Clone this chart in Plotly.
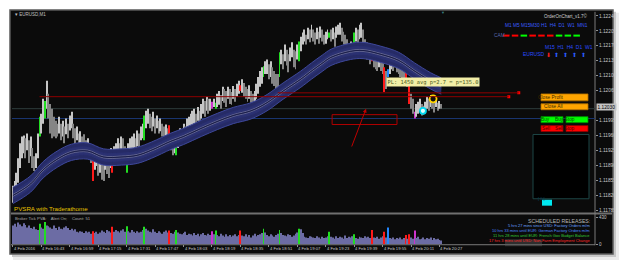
import plotly.graph_objects as go

W, H = 625, 268


def px(x):
    return x / W


def py(y):
    return 1 - y / H


# ---------------- data ----------------
bar_high = [
    1.11843, 1.11854, 1.11873, 1.11907, 1.11942, 1.11958, 1.11960, 1.11954, 1.11965, 1.11949,
    1.11958, 1.11931, 1.11912, 1.11919, 1.11965, 1.12004, 1.12011, 1.12046, 1.12041, 1.12088,
    1.12058, 1.12034, 1.12023, 1.12004, 1.11995, 1.11988, 1.12004, 1.11988, 1.11995, 1.11981,
    1.12000, 1.11988, 1.12007, 1.12016, 1.11988, 1.11977, 1.11981, 1.11965, 1.11970, 1.11958,
    1.11963, 1.11949, 1.11954, 1.11942, 1.11931, 1.11903, 1.11919, 1.11931, 1.11912, 1.11919,
    1.11907, 1.11896, 1.11919, 1.11912, 1.11903, 1.11931, 1.11907, 1.11935, 1.11942, 1.11954,
    1.11942, 1.11958, 1.11954, 1.11935, 1.11919, 1.11942, 1.11954, 1.11958, 1.11965, 1.11954,
    1.11972, 1.11965, 1.11981, 1.11988, 1.12007, 1.12018, 1.12023, 1.12011, 1.12004, 1.12016,
    1.12000, 1.12007, 1.11995, 1.12000, 1.11988, 1.11981, 1.11986, 1.11977, 1.11984, 1.11958,
    1.11949, 1.11954, 1.11970, 1.11965, 1.11977, 1.11972, 1.11988, 1.11981, 1.12000, 1.12004,
    1.12011, 1.12018, 1.12023, 1.12011, 1.12027, 1.12018, 1.12034, 1.12046, 1.12041, 1.12051,
    1.12046, 1.12046, 1.12039, 1.12046, 1.12037, 1.12058, 1.12064, 1.12055, 1.12074, 1.12069,
    1.12064, 1.12074, 1.12069, 1.12062, 1.12076, 1.12069, 1.12081, 1.12088, 1.12078, 1.12092,
    1.12083, 1.12074, 1.12069, 1.12078, 1.12064, 1.12058, 1.12064, 1.12081, 1.12097, 1.12111,
    1.12120, 1.12122, 1.12134, 1.12138, 1.12127, 1.12134, 1.12120, 1.12111, 1.12104, 1.12104,
    1.12155, 1.12161, 1.12150, 1.12173, 1.12161, 1.12150, 1.12166, 1.12178, 1.12161, 1.12157,
    1.12173, 1.12180, 1.12191, 1.12201, 1.12208, 1.12196, 1.12212, 1.12208, 1.12219, 1.12208,
    1.12201, 1.12212, 1.12203, 1.12215, 1.12208, 1.12196, 1.12203, 1.12208, 1.12201, 1.12208,
    1.12212, 1.12201, 1.12215, 1.12219, 1.12224, 1.12212, 1.12203, 1.12196, 1.12185, 1.12173,
    1.12180, 1.12173, 1.12201, 1.12212, 1.12208, 1.12219, 1.12224, 1.12208, 1.12185, 1.12178,
    1.12173, 1.12166, 1.12143, 1.12150, 1.12145, 1.12138, 1.12150, 1.12138, 1.12134, 1.12120,
    1.12111, 1.12115, 1.12138, 1.12150, 1.12143, 1.12155, 1.12138, 1.12134, 1.12127, 1.12115,
    1.12111, 1.12108, 1.12092, 1.12081, 1.12058, 1.12046, 1.12016, 1.12034, 1.12039, 1.12046,
    1.12034, 1.12030, 1.12039, 1.12051, 1.12046, 1.12055, 1.12051, 1.12041, 1.12046, 1.12037,
    1.12041, 1.12034,
]
bar_low = [
    1.11803, 1.11815, 1.11827, 1.11850, 1.11884, 1.11907, 1.11919, 1.11907, 1.11926, 1.11896,
    1.11912, 1.11884, 1.11877, 1.11884, 1.11907, 1.11958, 1.11965, 1.11988, 1.12000, 1.12023,
    1.12000, 1.11965, 1.11954, 1.11958, 1.11954, 1.11958, 1.11965, 1.11949, 1.11958, 1.11942,
    1.11963, 1.11954, 1.11972, 1.11977, 1.11954, 1.11942, 1.11949, 1.11935, 1.11940, 1.11931,
    1.11926, 1.11912, 1.11919, 1.11907, 1.11896, 1.11854, 1.11880, 1.11889, 1.11866, 1.11873,
    1.11857, 1.11854, 1.11880, 1.11870, 1.11861, 1.11884, 1.11873, 1.11889, 1.11903, 1.11907,
    1.11912, 1.11919, 1.11917, 1.11896, 1.11873, 1.11903, 1.11919, 1.11926, 1.11931, 1.11919,
    1.11935, 1.11931, 1.11949, 1.11954, 1.11949, 1.11977, 1.11988, 1.11977, 1.11970, 1.11981,
    1.11965, 1.11977, 1.11965, 1.11970, 1.11958, 1.11949, 1.11954, 1.11947, 1.11947, 1.11926,
    1.11914, 1.11919, 1.11914, 1.11931, 1.11937, 1.11942, 1.11949, 1.11954, 1.11958, 1.11965,
    1.11977, 1.11981, 1.11988, 1.11977, 1.11995, 1.11986, 1.12000, 1.12011, 1.12004, 1.12018,
    1.12011, 1.12018, 1.12023, 1.12027, 1.12023, 1.12027, 1.12032, 1.12023, 1.12041, 1.12037,
    1.12027, 1.12046, 1.12034, 1.12032, 1.12046, 1.12039, 1.12051, 1.12058, 1.12064, 1.12060,
    1.12051, 1.12046, 1.12039, 1.12046, 1.12037, 1.12034, 1.12032, 1.12046, 1.12058, 1.12074,
    1.12081, 1.12097, 1.12104, 1.12104, 1.12092, 1.12097, 1.12081, 1.12076, 1.12069, 1.12064,
    1.12097, 1.12127, 1.12115, 1.12134, 1.12124, 1.12108, 1.12134, 1.12143, 1.12120, 1.12115,
    1.12138, 1.12134, 1.12157, 1.12173, 1.12180, 1.12173, 1.12185, 1.12178, 1.12189, 1.12180,
    1.12173, 1.12185, 1.12175, 1.12189, 1.12180, 1.12173, 1.12175, 1.12185, 1.12189, 1.12180,
    1.12185, 1.12168, 1.12189, 1.12196, 1.12196, 1.12180, 1.12173, 1.12166, 1.12150, 1.12143,
    1.12148, 1.12143, 1.12157, 1.12180, 1.12173, 1.12185, 1.12189, 1.12168, 1.12150, 1.12138,
    1.12143, 1.12127, 1.12134, 1.12120, 1.12115, 1.12111, 1.12120, 1.12111, 1.12104, 1.12062,
    1.12069, 1.12097, 1.12104, 1.12115, 1.12111, 1.12120, 1.12108, 1.12104, 1.12097, 1.12092,
    1.12092, 1.12088, 1.12074, 1.12034, 1.12023, 1.12011, 1.12000, 1.12004, 1.12011, 1.12018,
    1.12007, 1.12009, 1.12016, 1.12023, 1.12018, 1.12027, 1.12023, 1.12014, 1.12027, 1.12018,
    1.12023, 1.12023,
]
volume = [
    300, 330, 280, 350, 320, 290, 340, 310, 270, 300,
    260, 250, 280, 240, 230, 330, 270, 250, 360, 300,
    290, 270, 250, 300, 260, 230, 280, 250, 240, 270,
    290, 260, 230, 250, 220, 240, 200, 190, 210, 200,
    180, 210, 190, 200, 170, 210, 180, 200, 170, 190,
    220, 200, 180, 230, 210, 190, 280, 200, 230, 210,
    190, 220, 240, 200, 290, 210, 190, 230, 200, 180,
    210, 190, 200, 230, 280, 250, 220, 200, 190, 240,
    200, 180, 210, 190, 170, 200, 220, 190, 220, 180,
    170, 200, 230, 190, 170, 160, 180, 200, 150, 170,
    160, 140, 180, 150, 170, 130, 160, 180, 150, 140,
    170, 150, 210, 160, 220, 150, 130, 170, 140, 120,
    160, 130, 150, 120, 140, 160, 130, 150, 220, 140,
    130, 160, 120, 150, 110, 140, 170, 130, 150, 160,
    180, 250, 190, 150, 130, 160, 140, 120, 150, 170,
    230, 180, 150, 140, 130, 160, 150, 120, 140, 170,
    190, 250, 240, 180, 120, 110, 100, 130, 120, 110,
    100, 130, 110, 90, 120, 100, 110, 130, 200, 120,
    110, 90, 130, 100, 120, 110, 90, 140, 100, 120,
    110, 130, 160, 100, 90, 120, 110, 100, 130, 110,
    120, 100, 230, 110, 100, 120, 90, 110, 130, 200,
    110, 270, 100, 90, 110, 80, 100, 90, 110, 80,
    100, 150, 90, 160, 110, 90, 220, 100, 120, 80,
    90, 110, 80, 100, 90, 110, 70, 100, 80, 90,
    70, 60,
]
# PVSRA bar classes (g = climax bull, r = climax bear, m = rising vol, b = blue)
bar_class = {15: 'g', 18: 'g', 45: 'r', 56: 'r', 64: 'g', 74: 'g', 88: 'r', 92: 'g',
             112: 'm', 114: 'g', 128: 'r', 141: 'g', 150: 'g', 161: 'g', 178: 'g',
             192: 'g', 202: 'r', 209: 'r', 211: 'b', 221: 'r', 223: 'r', 226: 'm'}

band_idx = [0, 10, 17, 25, 33, 42, 51, 61, 70, 78, 89, 96, 106, 115, 124, 134, 143,
            152, 162, 168, 174, 179, 190, 197, 207, 217, 226, 235, 241]
band_mid = [1.11820, 1.11847, 1.11880, 1.11905, 1.11921, 1.11924, 1.11910, 1.11910,
            1.11914, 1.11926, 1.11947, 1.11958, 1.11977, 1.11993, 1.12007, 1.12018,
            1.12037, 1.12064, 1.12092, 1.12111, 1.12129, 1.12143, 1.12157, 1.12159,
            1.12150, 1.12136, 1.12111, 1.12088, 1.12076]
band_half = 0.00019

price_ticks = [1.11785, 1.11820, 1.11855, 1.11890, 1.11925, 1.11960, 1.11995,
               1.12030, 1.12065, 1.12100, 1.12135, 1.12170, 1.12205, 1.12240]
time_labels = ["4 Feb 2016", "4 Feb 16:43", "4 Feb 16:59", "4 Feb 17:15", "4 Feb 17:31",
               "4 Feb 17:47", "4 Feb 18:03", "4 Feb 18:19", "4 Feb 18:35", "4 Feb 18:51",
               "4 Feb 19:07", "4 Feb 19:23", "4 Feb 19:39", "4 Feb 19:55", "4 Feb 20:11",
               "4 Feb 20:27"]
time_pos = [0, 16, 32, 48, 64, 80, 96, 112, 128, 144, 160, 176, 192, 208, 224, 240]

level_red1 = 1.12051
level_red2 = 1.12060
level_bid = 1.12023
level_blue = 1.12000
current_price = 1.12030

# ---------------- figure ----------------
n = len(bar_high)
idx = list(range(n))
cmap = {'g': '#22dd22', 'r': '#ff1a1a', 'm': '#cc33cc', 'b': '#2288ff'}
candle_col = []
for i in idx:
    if i in bar_class:
        candle_col.append(cmap[bar_class[i]])
    else:
        mid = bar_high[i] + bar_low[i]
        prev = bar_high[i - 1] + bar_low[i - 1] if i > 0 else mid
        candle_col.append('#c6c6c6' if mid >= prev else '#858585')
vol_col = [cmap.get(bar_class.get(i, ''), '#6c6ca4') for i in idx]

fig = go.Figure()

upper = [m + band_half for m in band_mid]
lower = [m - band_half for m in band_mid]
inner_u = [m + band_half * 0.5 for m in band_mid]
inner_l = [m - band_half * 0.5 for m in band_mid]
fig.add_trace(go.Scatter(x=band_idx, y=lower, mode='lines', hoverinfo='skip',
                         line=dict(color='#3e489a', width=1, shape='spline')))
fig.add_trace(go.Scatter(x=band_idx, y=upper, mode='lines', hoverinfo='skip', fill='tonexty',
                         fillcolor='#262b66', line=dict(color='#3e489a', width=1, shape='spline')))
fig.add_trace(go.Scatter(x=band_idx, y=inner_l, mode='lines', hoverinfo='skip',
                         line=dict(color='#2c3274', width=0.5, shape='spline')))
fig.add_trace(go.Scatter(x=band_idx, y=inner_u, mode='lines', hoverinfo='skip', fill='tonexty',
                         fillcolor='#2b3172', line=dict(color='#2c3274', width=0.5, shape='spline')))
for off, col, wd in [(0.000022, '#8c8ca4', 0.6), (-0.000022, '#8c8ca4', 0.6), (0, '#14163a', 0.8)]:
    fig.add_trace(go.Scatter(x=band_idx, y=[m + off for m in band_mid], mode='lines',
                             hoverinfo='skip', line=dict(color=col, width=wd, shape='spline')))

# candles (high-low bars)
fig.add_trace(go.Bar(x=idx, y=[h - l for h, l in zip(bar_high, bar_low)], base=bar_low,
                     width=0.55, marker=dict(color=candle_col, line=dict(width=0))))

# level end markers
fig.add_trace(go.Scatter(x=[279, 284.6], y=[level_red1, level_red2], mode='markers',
                         marker=dict(symbol='square', size=3, color='#ff0000')))
# order circles
fig.add_trace(go.Scatter(x=[230.7], y=[1.12018], mode='markers',
                         marker=dict(symbol='circle', size=6, color='#e0ffff',
                                     line=dict(color='#00d8f0', width=1.8))))
fig.add_trace(go.Scatter(x=[236.4], y=[1.12046], mode='markers',
                         marker=dict(symbol='circle', size=7, color='#101010',
                                     line=dict(color='#ffd400', width=1.8))))

# volume
fig.add_trace(go.Bar(x=idx, y=volume, xaxis='x2', yaxis='y2', width=0.55,
                     marker=dict(color=vol_col, line=dict(width=0))))

shapes = []
# frame / shadow / background
shapes.append(dict(type='rect', xref='paper', yref='paper', x0=px(13), x1=px(619), y0=py(263), y1=py(13),
                   fillcolor='#ececec', line=dict(width=0), layer='below'))
shapes.append(dict(type='rect', xref='paper', yref='paper', x0=px(12), x1=px(616), y0=py(260), y1=py(12),
                   fillcolor='#c8c8c8', line=dict(width=0), layer='below'))
shapes.append(dict(type='rect', xref='paper', yref='paper', x0=px(10), x1=px(613), y0=py(257), y1=py(10),
                   fillcolor='#0b0b0b', line=dict(color='#5a5a5a', width=1.5), layer='below'))
# pane separator and axis lines
shapes.append(dict(type='line', xref='paper', yref='paper', x0=px(11), x1=px(612), y0=py(216), y1=py(216),
                   line=dict(color='#707070', width=2), layer='below'))
shapes.append(dict(type='line', xref='paper', yref='paper', x0=px(595), x1=px(595), y0=py(248), y1=py(12),
                   line=dict(color='#7a7a7a', width=1), layer='below'))
shapes.append(dict(type='line', xref='paper', yref='paper', x0=px(11), x1=px(595), y0=py(247.5), y1=py(247.5),
                   line=dict(color='#7a7a7a', width=1), layer='below'))
# horizontal levels
shapes.append(dict(type='line', xref='x', yref='y', x0=-0.5, x1=327.5, y0=level_bid, y1=level_bid,
                   line=dict(color='#2e3c3c', width=1), layer='below'))
shapes.append(dict(type='line', xref='x', yref='y', x0=-0.5, x1=327.5, y0=level_blue, y1=level_blue,
                   line=dict(color='#1a3570', width=1), layer='below'))
shapes.append(dict(type='line', xref='x', yref='y', x0=15, x1=279, y0=level_red1, y1=level_red1,
                   line=dict(color='#8e0000', width=1)))
shapes.append(dict(type='line', xref='x', yref='y', x0=149, x1=284.6, y0=level_red2, y1=level_red2,
                   line=dict(color='#8e0000', width=1)))
# red rectangle
shapes.append(dict(type='rect', xref='x', yref='y', x0=179.6, x1=216.1, y0=1.11986, y1=1.12009,
                   line=dict(color='#b00000', width=1)))
# buttons
buttons = [
    (541, 588, 95, 102, '#ffa500', '#b07000', 'Close Profit', '#402a00'),
    (541, 588, 105, 111, '#ffa500', '#b07000', 'Close All', '#402a00'),
    (541, 563, 118, 124, '#00ff00', '#009000', 'Buy', '#005000'),
    (566, 588, 118, 124, '#00ff00', '#009000', 'Buy Stop', '#005000'),
    (541, 563, 127, 133, '#ff0000', '#900000', 'Sell', '#500000'),
    (566, 588, 127, 133, '#ff0000', '#900000', 'Sell Stop', '#500000'),
]
annotations = []
for x0, x1, y0, y1, fc, lc, t, tc in buttons:
    shapes.append(dict(type='rect', xref='paper', yref='paper', x0=px(x0), x1=px(x1), y0=py(y1), y1=py(y0),
                       fillcolor=fc, line=dict(color=lc, width=0.8)))
    annotations.append(dict(xref='paper', yref='paper', x=px((x0 + x1) / 2), y=py((y0 + y1) / 2),
                            text=t, showarrow=False, font=dict(size=4.8, color=tc, family='Liberation Sans')))
shapes.append(dict(type='rect', xref='paper', yref='paper', x0=px(533), x1=px(589), y0=py(201), y1=py(136),
                   fillcolor='#000000', line=dict(color='#1d4646', width=1)))
shapes.append(dict(type='rect', xref='paper', yref='paper', x0=px(542), x1=px(552), y0=py(208), y1=py(202),
                   fillcolor='#00e8f0', line=dict(width=0)))
annotations.append(dict(xref='paper', yref='paper', x=px(547), y=py(205), text='[ 0 ]', showarrow=False,
                        font=dict(size=4, color='#004060', family='Liberation Sans')))
# CAM dashes
cam_cols = ['#ff0000', '#ff0000', '#00ff00', '#ff0000', '#ff0000', '#ff0000', '#00ff00', '#00ff00', '#00ff00']
for k, c in enumerate(cam_cols):
    xs = 503 + 8.8 * k
    shapes.append(dict(type='line', xref='paper', yref='paper', x0=px(xs), x1=px(xs + 6.5), y0=py(36), y1=py(36),
                       line=dict(color=c, width=2)))
# grey overlay box in volume pane
shapes.append(dict(type='rect', xref='paper', yref='paper', x0=px(505), x1=px(542), y0=py(249), y1=py(242),
                   fillcolor='rgba(90,90,90,0.45)', line=dict(width=0)))

# time labels
for t, lab in zip(time_pos, time_labels):
    annotations.append(dict(xref='x', yref='paper', x=t, y=py(251.5), xanchor='left', yanchor='middle',
                            xshift=-1, text=lab, showarrow=False,
                            font=dict(size=4.2, color='#c8c8c8', family='Liberation Sans')))


def txt(x, y, s, size, color, anchor='left', family='Liberation Sans'):
    annotations.append(dict(xref='paper', yref='paper', x=px(x), y=py(y), xanchor=anchor, yanchor='middle',
                            text=s, showarrow=False, font=dict(size=size, color=color, family=family)))


txt(13, 15, '▾ EURUSD,M1', 4.5, '#c0c0c0')
txt(590, 16, 'OrderOnChart_v1.7©', 4.5, '#d0d0d0', anchor='right')
txt(503, 26, 'M1 M5 M15M30 H1  H4  D1  W1  MN1', 4.8, '#3a5cff')
txt(492, 36, 'CAM', 4.8, '#5868b0')
txt(543, 48, 'M15  H1  H4  D1  W1', 5, '#2a4cff')
txt(521, 55, 'EURUSD', 5, '#2a4cff')
txt(548, 55, '⬇', 6, '#ff2020', anchor='center', family='DejaVu Sans')
for xa in [556, 565, 574, 583]:
    txt(xa, 55, '⬆', 6, '#2a5cff', anchor='center', family='DejaVu Sans')
txt(12, 211, 'PVSRA with Traderathome', 6.2, '#e8c400')
txt(13, 221, 'Broker Tick PVA:    Alert On;    Count: 51', 4.2, '#a8a8a8')
txt(592, 223, 'SCHEDULED RELEASES:', 5.2, '#b8b8b8', anchor='right')
txt(592, 228.5, '5 hrs 27 mins since USD: Factory Orders m/m', 4, '#6aa0ff', anchor='right')
txt(592, 233.3, '10 hrs 33 mins until EUR: German Factory Orders m/m', 4, '#4d88ff', anchor='right')
txt(592, 238.1, '11 hrs 28 mins until EUR: French Gov Budget Balance', 4, '#35cc35', anchor='right')
txt(592, 242.9, '17 hrs 3 mins until USD: Non-Farm Employment Change', 4, '#ff2a2a', anchor='right')
txt(443, 12.5, '▼', 4, '#3a8080', anchor='center')
# current price label
annotations.append(dict(xref='paper', yref='y', x=px(596), y=1.12027, xanchor='left', yanchor='middle',
                        text='%.5f' % current_price, showarrow=False, bgcolor='#c4c4c4', borderpad=0.5,
                        font=dict(size=4.8, color='#000000', family='Liberation Sans')))
# PL label
annotations.append(dict(xref='x', yref='y', x=210, y=1.12085, xanchor='left', yanchor='middle',
                        text='PL: 1450 avg p=2.7 = p=135.0', showarrow=False, bgcolor='#f2eea6',
                        borderpad=0.5, font=dict(size=5.4, color='#4a5a20', family='DejaVu Sans Mono')))
# arrow
annotations.append(dict(xref='x', yref='y', axref='x', ayref='y', x=198.7, y=1.12023, ax=190.3, ay=1.11931,
                        text='', showarrow=True, arrowhead=2, arrowsize=0.8, arrowwidth=1, arrowcolor='#c00000'))

shown_ticks = [v for v in price_ticks if abs(v - current_price) > 1e-6]
fig.update_layout(
    width=W, height=H, margin=dict(l=0, r=0, t=0, b=0),
    paper_bgcolor='white', plot_bgcolor='rgba(0,0,0,0)',
    showlegend=False, barmode='overlay',
    shapes=shapes, annotations=annotations,
    xaxis=dict(domain=[px(12), px(595)], range=[-0.5, 327.5], visible=False, anchor='y'),
    yaxis=dict(domain=[py(215), py(13)], range=[1.11780, 1.12247], side='right', anchor='x',
               tickvals=shown_ticks, ticktext=['%.5f' % v for v in shown_ticks],
               ticks='outside', ticklen=2, tickcolor='#909090', showgrid=False, zeroline=False,
               tickfont=dict(size=4.8, color='#c8c8c8', family='Liberation Sans')),
    xaxis2=dict(domain=[px(12), px(595)], range=[-0.5, 327.5], matches='x', anchor='y2',
                showgrid=False, zeroline=False, showticklabels=False, ticks='outside',
                tickvals=time_pos, ticklen=2, tickcolor='#909090'),
    yaxis2=dict(domain=[py(247), py(217)], range=[0, 478], side='right', anchor='x2',
                tickvals=[0, 430], ticktext=['0', '430'], ticks='outside', ticklen=2,
                tickcolor='#909090', showgrid=False, zeroline=False,
                tickfont=dict(size=4.5, color='#c8c8c8', family='Liberation Sans')),
)

fig.write_html('out.html')
